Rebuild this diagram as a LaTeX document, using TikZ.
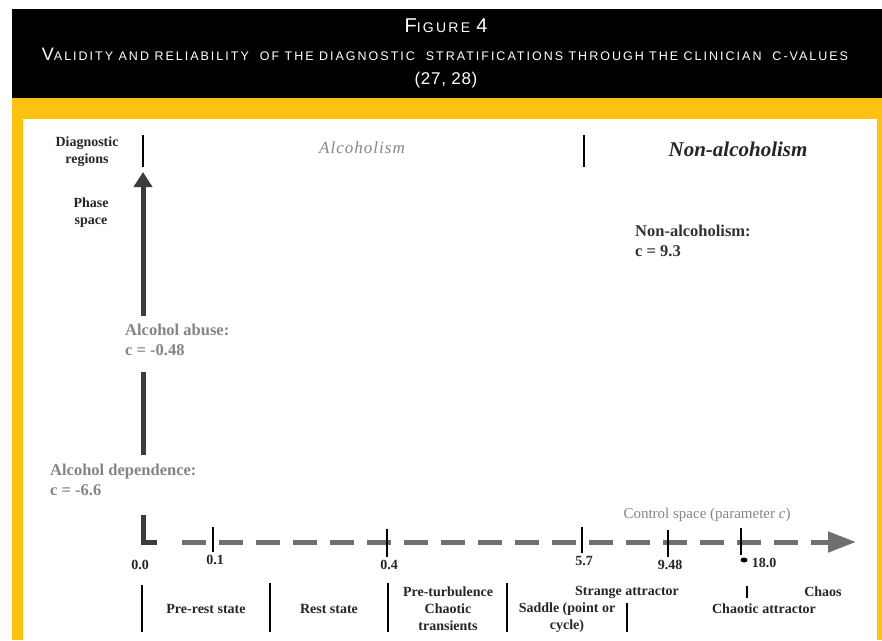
\documentclass[tikz,border=0pt]{standalone}
\usepackage{fontspec}
\setmainfont{Liberation Serif}
\newfontfamily\titlefont[LetterSpace=16]{Liberation Sans}
\usetikzlibrary{arrows.meta,positioning}
\definecolor{frameYel}{HTML}{FDC20F}
\definecolor{axisDark}{HTML}{3C3C3C}
\definecolor{lblGray}{HTML}{858585}
\definecolor{dashGray}{HTML}{707070}
\newcommand{\capA}[1]{{\fontsize{18}{18}\selectfont #1}}
\tikzset{
  lbl/.style={font=\fontsize{14}{17}\selectfont\bfseries, text=black!85,
    align=center, inner sep=0pt},
  num/.style={font=\fontsize{14}{16}\selectfont\bfseries, text=black!85,
    inner sep=0pt},
  glbl/.style={font=\fontsize{16.5}{20}\selectfont\bfseries, text=lblGray,
    align=left, inner sep=0pt, anchor=west},
  ttl/.style={font=\titlefont\fontsize{12.5}{14}\selectfont, text=white,
    inner sep=0pt},
  tickbar/.style={line width=2.4pt, draw=black},
  sepbar/.style={line width=2.6pt, draw=black},
  vaxis/.style={line width=5pt, draw=axisDark},
  daxis/.style={line width=5pt, draw=dashGray,
    dash pattern=on 24pt off 13pt, dash phase=24pt}
}
\begin{document}
\begin{tikzpicture}[x=1pt, y=-1pt]
  \useasboundingbox (0,0) rectangle (882,640);

  % title band and frame
  \fill[black] (12,9) rectangle (882,98);
  \fill[frameYel] (12,98) rectangle (882,640);
  \fill[white] (23,119) rectangle (877,640);

  \node[ttl, font=\titlefont\fontsize{14}{16}\selectfont] (fig) at (446,26)
    {{\fontsize{20}{20}\selectfont F}IGURE {\fontsize{20}{20}\selectfont 4}};
  \node[ttl] (ttlB) at (445,54)
    {\capA{V}ALIDITY AND RELIABILITY\ \ OF THE DIAGNOSTIC\ \ STRATIFICATIONS THROUGH THE CLINICIAN\ \ C-VALUES};
  \node[ttl, font=\titlefont\addfontfeature{LetterSpace=4}\fontsize{17}{18}\selectfont]
    (ttlC) at (446,80) {(27, 28)};

  % diagnostic regions
  \node[lbl] (diag) at (87,152) {Diagnostic\\regions};
  \node[lbl] (phase) at (91,213) {Phase\\space};
  \node[font=\fontsize{17}{18}\selectfont\itshape\addfontfeature{LetterSpace=6},
    text=lblGray, inner sep=0pt] (alc) at (362,148) {Alcoholism};
  \node[font=\fontsize{21}{24}\selectfont\bfseries\itshape, text=black!85,
    inner sep=0pt] (nonalc) at (738,149) {Non-alcoholism};
  \draw[sepbar] (143,135) -- (143,167);
  \draw[sepbar] (584,135) -- (584,167);

  \node[glbl, text=black!80] (nonval) at (635,241) {Non-alcoholism:\\c = 9.3};
  \node[glbl] (abuse) at (125,340) {Alcohol abuse:\\c = -0.48};
  \node[glbl] (depend) at (50,480) {Alcohol dependence:\\c = -6.6};

  % phase space axis
  \coordinate (phtop) at (143,172);
  \draw[vaxis, -{Triangle[length=15pt,width=18pt]}, shorten <=8pt]
    (abuse.north -| phtop) -- (phtop);
  \draw[vaxis, shorten <=16pt, shorten >=9pt]
    (abuse.south -| phtop) -- (depend.north -| phtop);

  % control space axis
  \coordinate (origin) at (143,542);
  \coordinate (ctrlend) at (856,542);
  \draw[vaxis] (143,515) -- (origin) -- ++(14,0);
  \draw[daxis, -{Triangle[length=28pt,width=20pt]}]
    ([xshift=26pt]origin) -- (ctrlend);
  \node[font=\fontsize{15}{16}\selectfont, text=lblGray, inner sep=0pt]
    (ctrl) at (707,515) {Control space (parameter \textit{c})};

  \node[num] (c00) at (140,565) {0.0};
  \foreach \x/\v/\t/\b in {213/0.1/527/552, 387/0.4/529/557,
      582/5.7/527/553, 668/9.48/530/557}{
    \draw[tickbar] (\x,\t) -- (\x,\b);
    \node[num] (c\v) at (\x+2,\b+8) {\v};
  }
  \draw[tickbar] (741,528) -- (741,555);
  \fill (744,560) ellipse (3.5 and 2.5);
  \node[num] (c18) at (764,563) {18.0};

  % regimes
  \foreach \x/\t in {142/585, 270/583, 388/583, 507/583, 627/603}
    \draw[sepbar] (\x,\t) -- (\x,632);
  \draw[sepbar] (747,586) -- (747,598);

  \node[lbl] (prerest) at (206,609) {Pre-rest state};
  \node[lbl] (rest) at (329,609) {Rest state};
  \node[lbl] (preturb) at (448,609) {Pre-turbulence\\Chaotic\\transients};
  \node[lbl] (saddle) at (567,618) {Saddle (point or\\cycle)};
  \node[lbl] (strange) at (627,592) {Strange attractor};
  \node[lbl] (chaotic) at (764,609) {Chaotic attractor};
  \node[lbl] (chaos) at (823,592) {Chaos};
\end{tikzpicture}
\end{document}
